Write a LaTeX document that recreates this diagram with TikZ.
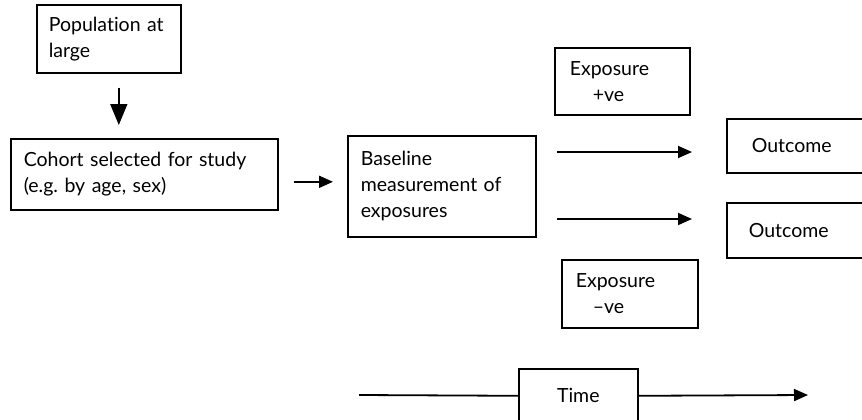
\documentclass[tikz,border=0pt]{standalone}
\usepackage{fontspec}
\setmainfont{Lato}[Ligatures=NoCommon]
\frenchspacing
\usetikzlibrary{arrows.meta}
\tikzset{
  box/.style={draw, line width=1.6pt, anchor=north west, align=left,
    font=\fontsize{19.5}{26}\selectfont},
  arr/.style={line width=1.8pt, -{Triangle[length=14pt,width=12pt]}},
  bigarr/.style={line width=1.8pt, -{Triangle[length=21pt,width=17pt]}}
}
\begin{document}
\begin{tikzpicture}[x=1pt, y=-1pt]
  \clip (0,0) rectangle (862,420);
  \node[box, inner xsep=12pt, text width=120pt, minimum height=68pt] (pop) at (36,4) {Population at\\large};
  \node[box, inner xsep=13pt, text width=241pt, minimum height=71pt] (cohort) at (10,138) {Cohort selected for study\\(e.g. by age, sex)};
  \node[box, inner xsep=13pt, text width=162pt, minimum height=101pt] (base) at (347,135) {Baseline\\measurement of\\exposures};
  \node[box, inner xsep=15pt, text width=105pt, minimum height=67pt] (expp) at (554,47) {Exposure\\\hspace*{23pt}+ve};
  \node[box, inner xsep=14pt, text width=108pt, minimum height=68pt] (expn) at (561,259) {Exposure\\\hspace*{17pt}--ve};
  \node[box, inner xsep=25pt, text width=130pt, minimum height=54pt] (out1) at (726,118) {Outcome};
  \node[box, inner xsep=22pt, text width=136pt, minimum height=55pt] (out2) at (726,202) {Outcome};
  \node[box, inner xsep=0pt, text width=119pt, minimum height=54pt, align=center] (time) at (518,368) {Time};
  \coordinate (e1) at (557,152);
  \coordinate (e2) at (557,219);
  \coordinate (t0) at (359,395);
  \coordinate (t1) at (808,395);
  \draw[bigarr, shorten <=14pt, shorten >=13pt] ([xshift=10pt]pop.south) -- ([xshift=10pt]pop.south |- cohort.north);
  \draw[arr, shorten <=15pt, shorten >=14pt] ([yshift=-7.5pt]cohort.east) -- ([yshift=-7.5pt]cohort.east -| base.west);
  \draw[arr, shorten >=34pt] (e1) -- (e1 -| out1.west);
  \draw[arr, shorten >=34pt] (e2) -- (e2 -| out2.west);
  \draw[line width=1.8pt] (t0) -- (time.west);
  \draw[arr] (time.east) -- (t1);
\end{tikzpicture}
\end{document}
